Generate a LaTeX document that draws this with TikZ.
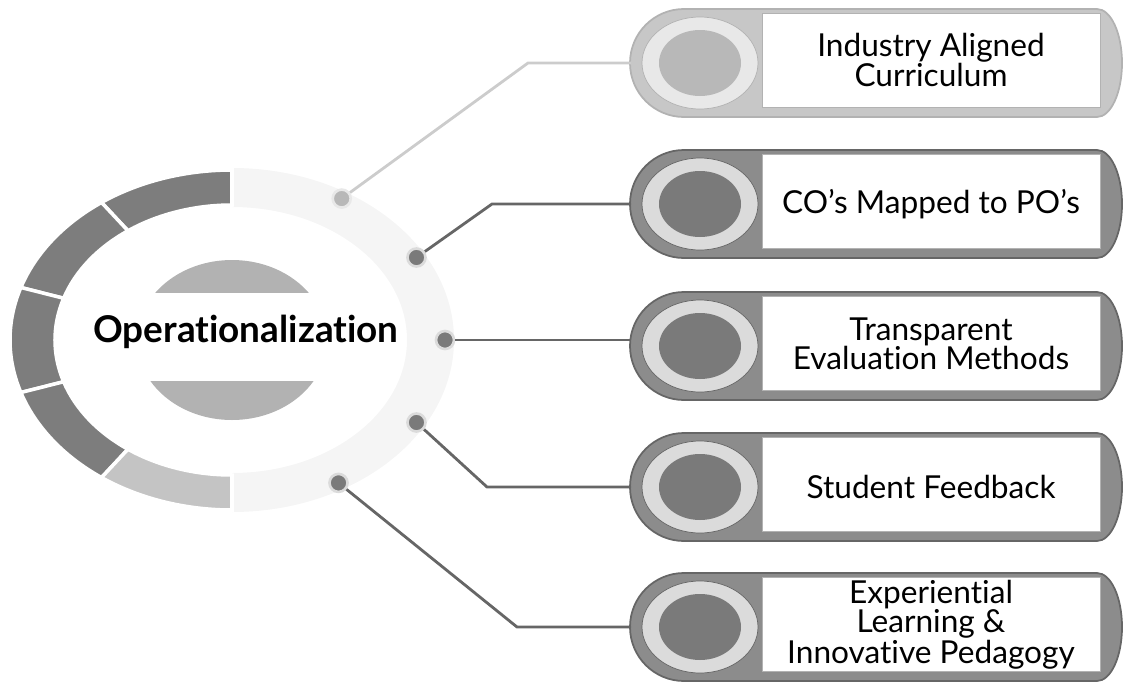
\documentclass[tikz,border=0pt]{standalone}
\usepackage{fontspec}
\setmainfont{Lato}[Ligatures=CommonOff]

\definecolor{segdark}{gray}{0.49}
\definecolor{seglight}{gray}{0.77}
\definecolor{faint}{gray}{0.96}
\definecolor{centre}{gray}{0.70}
\definecolor{pillbody}{gray}{0.55}
\definecolor{pilledge}{gray}{0.40}
\definecolor{pillbodyL}{gray}{0.78}
\definecolor{pilledgeL}{gray}{0.70}
\definecolor{rim}{gray}{0.86}
\definecolor{rimL}{gray}{0.91}
\definecolor{disc}{gray}{0.48}
\definecolor{discL}{gray}{0.72}
\definecolor{wire}{gray}{0.40}
\definecolor{wireL}{gray}{0.80}

\tikzset{
  pilltext/.style={align=center, font=\fontsize{18}{16.5}\selectfont},
  dotnode/.style={circle, fill=disc, draw=rim, line width=1.5pt, minimum size=.36cm, inner sep=0pt},
  conn/.style={draw=wire, line width=1.6pt}
}

\begin{document}
\begin{tikzpicture}[x=.02cm, y=.02cm]
   \useasboundingbox (0,0) rectangle (1140,-683);

   \begin{scope}[shift={(232,-340)}]
   \fill[faint] (90:222 and 172) arc (90:-90:222 and 172) -- (-90:175 and 133) arc (-90:90:175 and 133) -- cycle;
   \foreach \a/\c in {90/segdark,126/segdark,162/segdark,198/segdark,234/seglight}
   \filldraw[fill=\c, draw=white, line width=2pt] (\a:222 and 170) arc (\a:\a+36:222 and 170)
      -- (\a+36:177 and 135) arc (\a+36:\a:177 and 135) -- cycle;
   \fill[centre] (0,0) ellipse (95 and 80);
   \fill[white] (-112,47) rectangle (110,-41);

   \node[dotnode, fill=discL, draw=rimL] (d1) at (59:213 and 165) {};
   \foreach \i/\a in {2/30,3/0,4/-30,5/-60}
   \node[dotnode] (d\i) at (\a:213 and 165) {};
   \end{scope}

   \node (op) at (246,-332) {\fontsize{21}{24}\selectfont\bfseries Operationalization};

   \foreach \y/\bc/\ec/\rc/\dc in {-63/pillbodyL/pilledgeL/rimL/discL,
                                   -204/pillbody/pilledge/rim/disc,
                                   -346/pillbody/pilledge/rim/disc,
                                   -487/pillbody/pilledge/rim/disc,
                                   -627/pillbody/pilledge/rim/disc}{
   \draw[fill=\bc, draw=\ec, line width=1pt] (684,\y+54) -- (1097,\y+54) arc (90:-90:25 and 54)
      -- (684,\y-54) arc (270:90:54) -- cycle;
   \draw[fill=white, draw=gray!60] (762,\y+50) rectangle (1100,\y-44);
   \draw[fill=\rc, draw=\ec] (700,\y) ellipse (58 and 46);
   \fill[\dc] (700,\y) ellipse (41 and 33);
   }

   \node[pilltext] (t1) at (931,-60) {Industry Aligned\\Curriculum};
   \node[pilltext] (t2) at (931,-204) {CO’s Mapped to PO’s};
   \node[pilltext] (t3) at (931,-344) {Transparent\\Evaluation Methods};
   \node[pilltext] (t4) at (931,-487) {Student Feedback};
   \node[pilltext] (t5) at (931,-625) {Experiential\\Learning \&\\Innovative Pedagogy};

   \coordinate (p1) at (631,-63);
   \coordinate (p2) at (631,-204);
   \coordinate (p3) at (631,-340);
   \coordinate (p4) at (631,-487);
   \coordinate (p5) at (631,-627);
   \coordinate (b1) at (528,-63);
   \coordinate (b2) at (492,-204);
   \coordinate (b4) at (487,-487);
   \coordinate (b5) at (517,-627);

   \draw[conn, draw=wireL] (d1) -- (b1) -- (p1);
   \draw[conn] (d2) -- (b2) -- (p2);
   \draw[conn] (d3) -- (p3);
   \draw[conn] (d4) -- (b4) -- (p4);
   \draw[conn] (d5) -- (b5) -- (p5);

\end{tikzpicture}
\end{document}
